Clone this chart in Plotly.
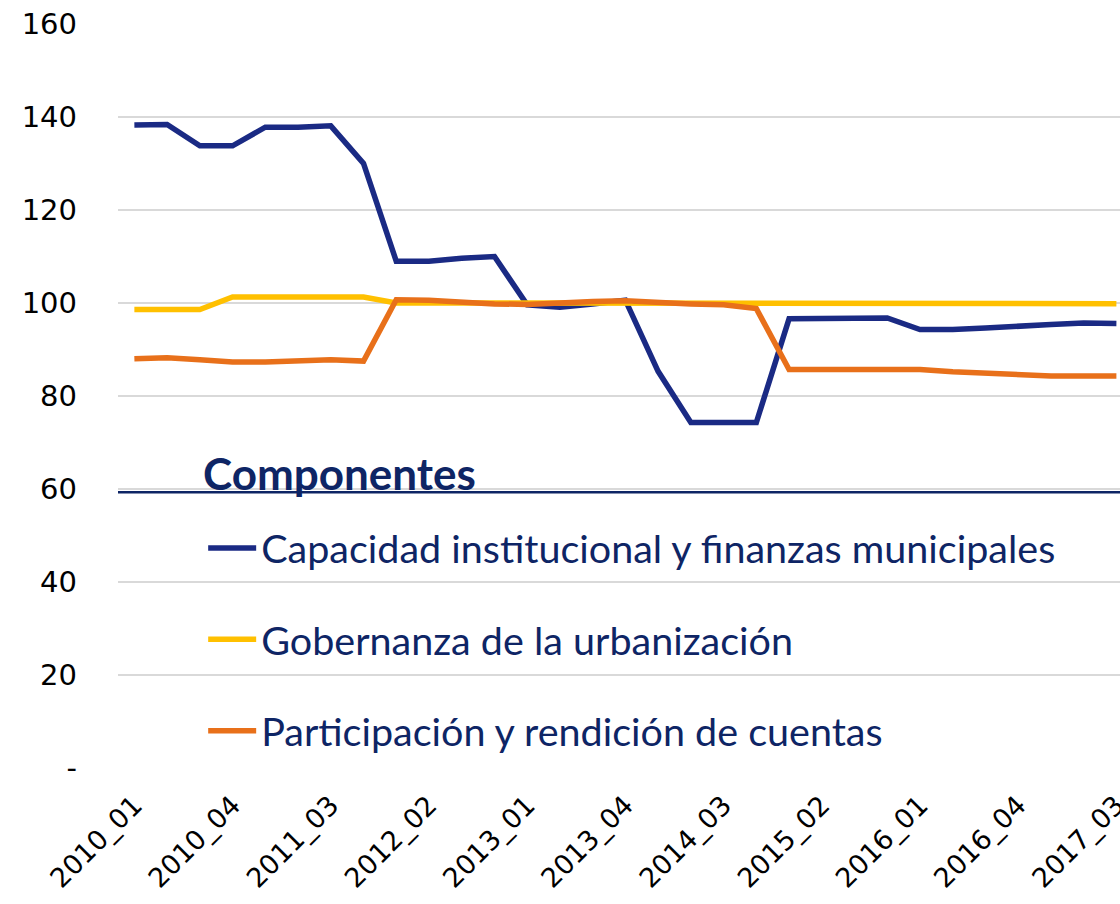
import plotly.graph_objects as go

# Quarterly periods, 2010_01 .. 2017_03
quarters = [f"{y}_{q:02d}" for y in range(2010, 2018) for q in range(1, 5)][:31]

capacidad = [138.3, 138.4, 133.8, 133.8, 137.8, 137.8, 138.1, 130.0, 109.0, 109.0,
             109.6, 110.0, 99.6, 99.1, 99.8, 100.6, 85.3, 74.3, 74.3, 74.3,
             96.6, 96.6, 96.7, 96.8, 94.3, 94.3, 94.6, 95.1, 95.4, 95.7, 95.6]

gobernanza = [98.6, 98.6, 98.6, 101.3, 101.3, 101.3, 101.3, 101.3, 100.0, 100.0,
              100.0, 100.0, 99.9, 99.9, 99.9, 99.9, 99.9, 99.9, 99.9, 99.9,
              99.9, 99.9, 99.9, 99.9, 99.85, 99.85, 99.85, 99.85, 99.85, 99.85, 99.85]

participacion = [88.0, 88.2, 87.8, 87.3, 87.3, 87.5, 87.8, 87.5, 100.7, 100.6,
                 100.1, 99.8, 99.7, 100.1, 100.3, 100.5, 100.1, 99.8, 99.6, 98.8,
                 85.7, 85.7, 85.7, 85.9, 85.7, 85.2, 84.9, 84.7, 84.3, 84.3, 84.3]

series = [
    ("Capacidad institucional y finanzas municipales", capacidad, "#1A2A84"),
    ("Gobernanza de la urbanización", gobernanza, "#FFC000"),
    ("Participación y rendición de cuentas", participacion, "#E8701A"),
]

y_ticks = [0, 20, 40, 60, 80, 100, 120, 140, 160]
y_ticktext = ["-", "20", "40", "60", "80", "100", "120", "140", "160"]
x_ticks = quarters[::3]

NAVY_TEXT = "#0E2565"

fig = go.Figure()
for i, (name, vals, color) in enumerate(series):
    fig.add_trace(go.Scatter(
        x=quarters, y=vals, name=name, mode="lines",
        line=dict(color=color, width=5.5),
        legendgroup=f"g{i}",
    ))

fig.update_layout(
    width=1120, height=904,
    margin=dict(l=118, r=0, t=24, b=136),
    paper_bgcolor="white", plot_bgcolor="white",
    showlegend=True,
    legend=dict(
        font=dict(family="Lato", size=39.5, color=NAVY_TEXT),
        x=0.085, xanchor="left", y=0.339, yanchor="top",
        bgcolor="rgba(0,0,0,0)", tracegroupgap=37, itemwidth=48,
    ),
    shapes=[dict(type="line", xref="paper", x0=0, x1=1, yref="y", y0=59.3, y1=59.3,
                 line=dict(color=NAVY_TEXT, width=2.5))],
    annotations=[dict(text="<b>Componentes</b>", xref="paper", yref="y",
                      x=0.083, y=57.5, xanchor="left", yanchor="bottom",
                      showarrow=False,
                      font=dict(family="Lato", size=44, color=NAVY_TEXT))],
)

fig.update_xaxes(
    type="category", range=[-0.5, 30.11], automargin=False,
    tickmode="array", tickvals=x_ticks, ticktext=x_ticks,
    tickangle=-45, showgrid=False, showline=False, zeroline=False,
    tickfont=dict(family="DejaVu Sans", size=27, color="black"),
    ticks="", ticklabelstandoff=15,
)
fig.update_yaxes(
    range=[0, 160], automargin=False,
    tickmode="array", tickvals=y_ticks, ticktext=y_ticktext,
    showgrid=True, gridcolor="#D9D9D9", gridwidth=1.5, zeroline=False,
    showline=False, ticks="", ticklabelstandoff=40,
    tickfont=dict(family="DejaVu Sans", size=29, color="black"),
)

fig.write_html("out.html")
